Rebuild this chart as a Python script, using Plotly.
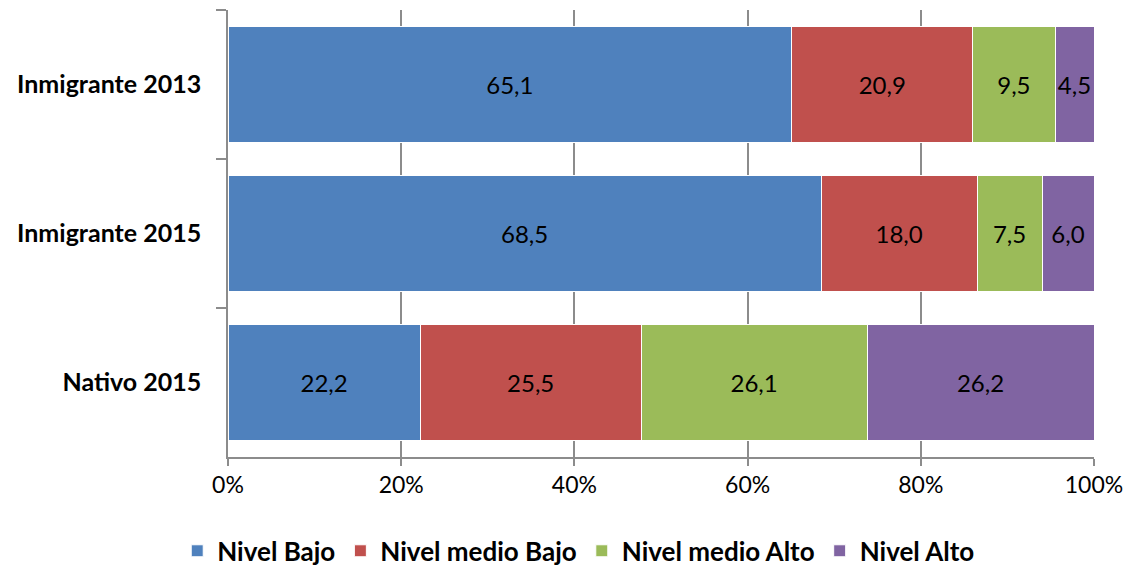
import plotly.graph_objects as go

categories = ["Inmigrante 2013", "Inmigrante 2015", "Nativo 2015"]
series_names = ["Nivel Bajo", "Nivel medio Bajo", "Nivel medio Alto", "Nivel Alto"]
nivel_bajo = [65.1, 68.5, 22.2]
nivel_medio_bajo = [20.9, 18.0, 25.5]
nivel_medio_alto = [9.5, 7.5, 26.1]
nivel_alto = [4.5, 6.0, 26.2]
colors = ["#4F81BD", "#C0504D", "#9BBB59", "#8064A2"]

font_family = "Lato, 'Open Sans', sans-serif"

fig = go.Figure()
for name, vals, col in zip(series_names,
                           [nivel_bajo, nivel_medio_bajo, nivel_medio_alto, nivel_alto],
                           colors):
    fig.add_trace(go.Bar(
        y=categories, x=vals, name=name, orientation="h",
        marker=dict(color=col, line=dict(color="white", width=1)),
        text=[f"{v:.1f}".replace(".", ",") for v in vals],
        textposition="inside", insidetextanchor="middle", textangle=0,
        constraintext="none",
        textfont=dict(color="black", size=24, family=font_family),
        hoverinfo="skip",
    ))

fig.update_layout(
    barmode="stack", bargap=0.22,
    width=1129, height=568,
    margin=dict(l=228, r=35, t=10, b=111, autoexpand=False),
    plot_bgcolor="white", paper_bgcolor="white",
    font=dict(family=font_family, color="black"),
    uniformtext=dict(mode="show", minsize=24),
    legend=dict(orientation="h", x=0.405, xanchor="center", y=-0.21, yanchor="middle",
                font=dict(size=26, family=font_family, weight="bold"),
                traceorder="normal", itemwidth=30),
    showlegend=True,
)
fig.update_xaxes(range=[0, 100], dtick=20, ticksuffix="%", automargin=False,
                 showgrid=True, gridcolor="#8C8C8C", gridwidth=1.5,
                 showline=True, linecolor="#8C8C8C", linewidth=1.5,
                 ticks="outside", ticklen=7, tickcolor="#8C8C8C", tickwidth=1.5,
                 tickfont=dict(size=23, family=font_family), zeroline=False)
fig.update_yaxes(categoryorder="array", categoryarray=categories, autorange="reversed",
                 automargin=False,
                 showgrid=False, showline=True, linecolor="#8C8C8C", linewidth=1.5,
                 ticks="outside", ticklen=10, tickcolor="#8C8C8C", tickwidth=1.5,
                 tickson="boundaries", ticklabelstandoff=20,
                 tickfont=dict(size=25, family=font_family, weight="bold"))

fig.write_html("out.html")
